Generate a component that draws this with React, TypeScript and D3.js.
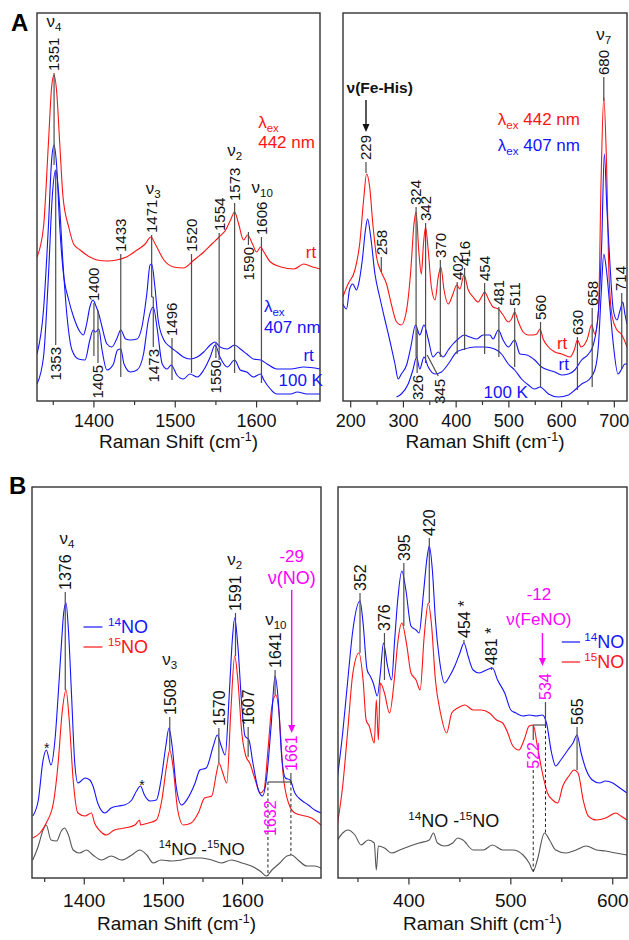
import React from 'react';
import * as d3 from 'd3';

type Pt = [number, number];
type Tag = { t: string; x: number; y: number; to?: number; down?: boolean; lx?: number; c?: string };
type Seg = [number, number, number, number];

const FONT = '"Liberation Sans", Arial, Helvetica, sans-serif';
const RED = '#ff1414';
const BLUE = '#1414ff';
const MAG = '#ff00ff';
const DIFF = '#555555';
const LEAD = '#4d4d4d';
const INK = '#111111';

// ---------- Panel A, high-frequency window (Raman shift cm-1, intensity a.u.)
const aHiRed442: Pt[] = [
  [1330, 144], [1338, 174], [1344, 257], [1348, 314], [1351, 326], [1354, 311], [1358, 257], [1362, 204],
  [1369, 174], [1375, 157], [1383, 151], [1395, 144], [1404, 141], [1416, 140], [1428, 141], [1440, 144],
  [1453, 151], [1463, 157], [1470, 164], [1476, 156], [1486, 141], [1498, 134], [1510, 133], [1523, 141],
  [1535, 149], [1545, 157], [1554, 164], [1562, 171], [1568, 181], [1573, 189], [1578, 177], [1584, 161],
  [1589, 166], [1595, 157], [1600, 149], [1605, 154], [1609, 149], [1617, 139], [1630, 134], [1646, 132],
  [1658, 137], [1669, 134], [1678, 132],
];
const aHiBlueRt: Pt[] = [
  [1330, 47], [1338, 91], [1344, 174], [1348, 241], [1351, 256], [1354, 237], [1358, 174], [1362, 131],
  [1369, 101], [1375, 84], [1383, 69], [1387, 66], [1391, 77], [1395, 94], [1399, 101], [1402, 96],
  [1406, 87], [1410, 74], [1416, 57], [1422, 54], [1428, 62], [1433, 71], [1439, 62], [1445, 61],
  [1453, 62], [1459, 74], [1465, 107], [1469, 136], [1471, 137], [1475, 114], [1479, 81], [1486, 61],
  [1494, 54], [1502, 49], [1510, 44], [1518, 42], [1527, 44], [1535, 49], [1543, 56], [1549, 59],
  [1555, 54], [1564, 52], [1573, 56], [1580, 52], [1588, 47], [1596, 42], [1605, 41], [1613, 37],
  [1625, 32], [1642, 32], [1658, 34], [1678, 32],
];
const aHiBlue100K: Pt[] = [
  [1330, 17], [1338, 44], [1344, 124], [1349, 207], [1353, 231], [1357, 204], [1362, 137], [1367, 84],
  [1373, 51], [1381, 42], [1389, 41], [1395, 61], [1399, 71], [1402, 69], [1406, 72], [1410, 51],
  [1416, 31], [1424, 37], [1429, 51], [1433, 52], [1437, 37], [1445, 29], [1453, 31], [1461, 47],
  [1467, 81], [1473, 94], [1478, 71], [1484, 37], [1490, 32], [1495, 36], [1502, 26], [1510, 22],
  [1518, 27], [1527, 24], [1535, 31], [1543, 44], [1549, 56], [1555, 44], [1564, 34], [1573, 41],
  [1580, 31], [1588, 29], [1596, 24], [1605, 27], [1609, 21], [1617, 12], [1625, 7], [1642, 7],
  [1650, 9], [1662, 7], [1678, 7],
];
const aHiTags: Tag[] = [
  { t: '1351', x: 1351, y: 328, to: 236 },
  { t: '1353', x: 1353, y: 56, to: 231, down: true },
  { t: '1400', x: 1400, y: 98, to: 45 },
  { t: '1405', x: 1405, y: 38, to: 91, down: true },
  { t: '1433', x: 1433, y: 147, to: 24 },
  { t: '1471', x: 1471, y: 166, to: 104 },
  { t: '1473', x: 1473, y: 54, to: 104, down: true },
  { t: '1496', x: 1496, y: 63, to: 21 },
  { t: '1520', x: 1520, y: 147, to: 28 },
  { t: '1554', x: 1554, y: 168, to: 41 },
  { t: '1550', x: 1550, y: 43, to: 58, down: true },
  { t: '1573', x: 1573, y: 198, to: 28 },
  { t: '1590', x: 1590, y: 156, to: 169, down: true },
  { t: '1606', x: 1606, y: 164, to: 18 },
];
const aHiSegs: Seg[] = [[1471, 104, 1473, 104]];

// ---------- Panel A, low-frequency window
const aLoRed442: Pt[] = [
  [185, 104], [195, 117], [208, 131], [217, 157], [225, 204], [230, 227], [236, 214], [242, 177],
  [249, 144], [258, 129], [268, 117], [277, 97], [287, 79], [296, 76], [306, 91], [314, 131],
  [320, 177], [324, 189], [329, 151], [334, 127], [338, 157], [342, 174], [347, 151], [353, 114],
  [360, 101], [366, 124], [371, 134], [377, 111], [385, 97], [394, 107], [401, 116], [407, 112],
  [415, 126], [423, 111], [432, 104], [442, 99], [448, 104], [454, 109], [462, 101], [470, 94],
  [480, 92], [489, 86], [499, 79], [505, 82], [511, 89], [518, 79], [527, 69], [537, 66],
  [546, 66], [553, 67], [559, 72], [565, 62], [575, 54], [587, 49], [600, 47], [616, 44],
  [624, 51], [630, 61], [637, 54], [648, 61], [657, 76], [663, 67], [670, 91], [675, 224],
  [680, 304], [685, 241], [690, 124], [696, 84], [705, 71], [713, 67], [718, 62], [724, 54],
];
const aLoBlueRt: Pt[] = [
  [185, 97], [192, 92], [198, 112], [204, 117], [211, 111], [215, 117], [222, 141], [228, 171],
  [232, 182], [238, 164], [246, 127], [255, 104], [265, 81], [274, 61], [284, 37], [290, 22],
  [296, 27], [306, 36], [314, 54], [323, 76], [331, 66], [339, 76], [347, 62], [356, 44],
  [366, 49], [375, 44], [385, 51], [394, 57], [404, 62], [415, 66], [426, 64], [439, 62],
  [451, 66], [464, 66], [470, 62], [480, 71], [489, 61], [499, 54], [511, 61], [521, 47],
  [534, 46], [549, 41], [562, 34], [575, 31], [587, 29], [600, 26], [613, 27], [625, 31],
  [638, 41], [651, 47], [660, 56], [670, 91], [676, 157], [681, 247], [686, 191], [692, 134],
  [698, 91], [705, 81], [711, 91], [716, 99], [720, 87], [724, 77],
];
const aLoBlue100K: Pt[] = [
  [287, 4], [296, 7], [309, 17], [318, 31], [325, 44], [331, 32], [339, 44], [347, 34],
  [360, 27], [372, 29], [385, 37], [401, 49], [416, 52], [435, 54], [454, 54], [473, 52],
  [486, 47], [499, 37], [511, 31], [524, 22], [537, 16], [549, 12], [559, 14], [575, 7],
  [594, 4], [613, 6], [625, 11], [638, 17], [651, 21], [663, 31], [670, 57], [675, 107],
  [680, 147], [685, 131], [692, 91], [698, 57], [707, 27], [714, 32], [720, 37], [724, 37],
];
const aLoTags: Tag[] = [
  { t: '229', x: 229, y: 239, to: 228 },
  { t: '258', x: 258, y: 144, to: 129 },
  { t: '324', x: 324, y: 194, to: 44 },
  { t: '342', x: 342, y: 178, to: 38 },
  { t: '370', x: 370, y: 141, to: 44 },
  { t: '402', x: 402, y: 119, to: 47 },
  { t: '416', x: 416, y: 133, to: 51 },
  { t: '454', x: 454, y: 118, to: 47 },
  { t: '481', x: 481, y: 94, to: 44 },
  { t: '511', x: 511, y: 93, to: 34 },
  { t: '560', x: 560, y: 79, to: 14 },
  { t: '630', x: 630, y: 64, to: 11 },
  { t: '658', x: 658, y: 93, to: 14 },
  { t: '680', x: 680, y: 324, to: 300 },
  { t: '714', x: 714, lx: 711, y: 108, to: 32 },
  { t: '326', x: 326, y: 28, to: 71, down: true },
  { t: '345', x: 368, y: 24, down: true },
];
const aLoSegs: Seg[] = [[345, 46, 366, 25]];

// ---------- Panel B, high-frequency window (14NO / 15NO)
const bHi14: Pt[] = [
  [1335, 62], [1342, 78], [1348, 118], [1352, 128], [1358, 113], [1363, 138], [1367, 182], [1371, 232],
  [1374, 265], [1377, 275], [1380, 248], [1384, 182], [1388, 115], [1392, 95], [1396, 97], [1401, 100],
  [1407, 98], [1411, 92], [1417, 75], [1426, 65], [1434, 70], [1443, 72], [1451, 73], [1460, 78],
  [1466, 87], [1471, 92], [1476, 83], [1483, 77], [1491, 78], [1497, 98], [1503, 132], [1507, 150],
  [1511, 132], [1516, 92], [1523, 73], [1531, 80], [1540, 95], [1546, 108], [1554, 110], [1563, 132],
  [1568, 143], [1573, 132], [1578, 123], [1583, 182], [1587, 238], [1590, 260], [1594, 232], [1599, 172],
  [1603, 142], [1608, 138], [1613, 115], [1620, 88], [1625, 82], [1630, 98], [1636, 152], [1641, 202],
  [1645, 178], [1649, 125], [1654, 100], [1660, 98], [1666, 85], [1674, 78], [1683, 73], [1691, 68],
  [1699, 65],
];
const bHi15: Pt[] = [
  [1335, 40], [1344, 45], [1352, 55], [1361, 75], [1367, 115], [1372, 165], [1377, 188], [1381, 158],
  [1386, 98], [1392, 65], [1401, 62], [1409, 65], [1413, 55], [1420, 47], [1428, 43], [1438, 48],
  [1451, 50], [1464, 53], [1470, 58], [1471, 53], [1481, 55], [1491, 58], [1498, 78], [1504, 112],
  [1508, 128], [1512, 112], [1518, 68], [1525, 53], [1535, 55], [1544, 65], [1552, 80], [1561, 82],
  [1567, 105], [1570, 115], [1575, 105], [1580, 95], [1585, 165], [1590, 222], [1594, 198], [1599, 145],
  [1604, 122], [1609, 115], [1616, 98], [1622, 85], [1627, 88], [1632, 128], [1637, 172], [1642, 183],
  [1646, 165], [1651, 105], [1658, 75], [1666, 65], [1679, 62], [1687, 60], [1699, 53],
];
const bHiDiff: Pt[] = [
  [1335, 18], [1342, 32], [1348, 48], [1352, 53], [1358, 38], [1365, 37], [1371, 47], [1375, 50],
  [1380, 43], [1386, 28], [1394, 25], [1403, 28], [1411, 23], [1422, 18], [1434, 22], [1447, 18],
  [1460, 23], [1470, 28], [1479, 23], [1487, 15], [1497, 18], [1510, 17], [1523, 18], [1535, 20],
  [1548, 20], [1561, 18], [1573, 15], [1586, 18], [1599, 15], [1611, 12], [1622, 7], [1630, 2],
  [1637, 8], [1647, 15], [1656, 22], [1662, 23], [1670, 18], [1681, 12], [1691, 12], [1699, 10],
];
const bHiTags: Tag[] = [
  { t: '1376', x: 1376, y: 286, to: 188 },
  { t: '1508', x: 1508, y: 161, to: 128 },
  { t: '1570', x: 1570, y: 150, to: 115 },
  { t: '1591', x: 1591, y: 265, to: 222 },
  { t: '1607', x: 1607, y: 151, to: 121 },
  { t: '1641', x: 1641, y: 208, to: 183 },
  { t: '1661', x: 1661, y: 105, to: 96, c: MAG },
  { t: '1632', x: 1635, y: 40, c: MAG },
];
const bHiSegs: Seg[] = [[1632, 96, 1661, 96]];
const bHiDash: Seg[] = [[1632, 96, 1632, 2], [1661, 96, 1661, 23]];

// ---------- Panel B, low-frequency window
const bLo14: Pt[] = [
  [330, 102], [335, 145], [340, 198], [345, 248], [352, 277], [355, 255], [359, 208], [362, 202],
  [365, 195], [369, 182], [372, 205], [375, 235], [379, 212], [383, 198], [386, 238], [389, 278],
  [393, 307], [397, 288], [402, 252], [407, 248], [410, 245], [414, 282], [418, 322], [420, 332],
  [423, 308], [426, 258], [430, 218], [435, 195], [440, 202], [445, 212], [450, 225], [454, 235],
  [458, 222], [463, 208], [469, 205], [476, 208], [482, 210], [487, 198], [494, 185], [500, 168],
  [505, 165], [512, 162], [518, 163], [525, 162], [531, 163], [535, 155], [540, 125], [544, 112],
  [549, 118], [556, 128], [561, 135], [565, 143], [569, 125], [574, 108], [580, 98], [587, 95],
  [593, 97], [600, 95], [607, 90], [614, 85],
];
const bLo15: Pt[] = [
  [330, 55], [335, 92], [340, 148], [345, 205], [351, 225], [355, 198], [358, 158], [361, 152],
  [366, 135], [368, 178], [370, 138], [372, 195], [376, 185], [381, 165], [386, 202], [389, 235],
  [393, 255], [398, 232], [402, 205], [407, 198], [411, 188], [415, 242], [419, 275], [422, 255],
  [426, 198], [431, 165], [437, 145], [442, 165], [448, 170], [455, 173], [463, 168], [471, 168],
  [479, 165], [486, 158], [492, 155], [497, 145], [502, 132], [508, 128], [513, 138], [518, 152],
  [522, 153], [526, 132], [531, 105], [536, 85], [541, 78], [546, 75], [551, 92], [557, 102],
  [562, 108], [566, 105], [571, 78], [576, 62], [584, 58], [593, 60], [603, 65], [608, 62], [614, 58],
];
const bLoDiff: Pt[] = [
  [330, 38], [335, 45], [340, 48], [347, 43], [353, 33], [360, 38], [366, 35], [368, 8],
  [370, 32], [376, 30], [383, 25], [391, 28], [401, 32], [410, 35], [420, 38], [424, 45],
  [428, 35], [435, 32], [443, 35], [448, 40], [453, 38], [463, 28], [473, 28], [482, 33],
  [492, 28], [502, 28], [512, 23], [518, 15], [522, 7], [526, 18], [533, 45], [538, 38],
  [544, 28], [554, 25], [564, 28], [574, 32], [584, 28], [593, 27], [603, 25], [614, 23],
];
const bLoTags: Tag[] = [
  { t: '352', x: 352, y: 285, to: 225 },
  { t: '376', x: 376, y: 245, to: 198 },
  { t: '395', x: 395, y: 315, to: 252 },
  { t: '420', x: 420, y: 340, to: 275 },
  { t: '454 *', x: 454, y: 238, to: 235 },
  { t: '481 *', x: 481, y: 211, to: 208 },
  { t: '534', x: 534, y: 176, to: 153, c: MAG },
  { t: '522', x: 522, y: 138, to: 153, down: true, c: MAG },
  { t: '565', x: 565, y: 151, to: 108 },
];
const bLoSegs: Seg[] = [[522, 153, 534, 153]];
const bLoDash: Seg[] = [[522, 108, 522, 6], [534, 153, 534, 45]];

type Scale = d3.ScaleLinear<number, number>;

interface PanelProps {
  x0: number; x1: number; y0: number; y1: number;
  xd: [number, number];
  major: number[]; minor: number[];
  series: { pts: Pt[]; color: string }[];
  tags: Tag[]; tagSize: number;
  segs?: Seg[]; dashes?: Seg[];
  tickSize: number; tickDy: number; titleDy: number;
  extra?: (x: Scale, y: Scale) => React.ReactNode;
}

// nu / lambda with a subscript, drawn as one text element
const SubLabel = ({ x, y, base, sub, rest, anchor, fill, size }: {
  x: number; y: number; base: string; sub: string; rest?: string; anchor?: string; fill?: string; size?: number;
}) => (
  <text x={x} y={y} textAnchor={anchor ?? 'start'} fill={fill ?? INK} fontSize={size}>
    {base}
    <tspan dy={4} fontSize="0.68em">{sub}</tspan>
    {rest ? <tspan dy={-4}>{rest}</tspan> : null}
  </text>
);

// isotope label like 14NO or 14NO -15NO
const Iso = ({ x, y, parts, anchor, fill, size }: {
  x: number; y: number; parts: [string, string][]; anchor?: string; fill?: string; size: number;
}) => (
  <text x={x} y={y} textAnchor={anchor ?? 'start'} fill={fill ?? INK} fontSize={size}>
    {parts.map(([sup, txt], i) => (
      <React.Fragment key={i}>
        <tspan dy={-7} fontSize={size * 0.65}>{sup}</tspan>
        <tspan dy={7}>{txt}</tspan>
      </React.Fragment>
    ))}
  </text>
);

function Panel(p: PanelProps) {
  const x = d3.scaleLinear().domain(p.xd).range([p.x0, p.x1]);
  const y = d3.scaleLinear().domain([0, p.y1 - p.y0]).range([p.y1, p.y0]);
  const line = d3.line<Pt>().x((d) => x(d[0])).y((d) => y(d[1])).curve(d3.curveMonotoneX);
  const id = `clip-${p.x0}-${p.y0}`;
  return (
    <g>
      <clipPath id={id}>
        <rect x={p.x0} y={p.y0} width={p.x1 - p.x0} height={p.y1 - p.y0} />
      </clipPath>
      <g clipPath={`url(#${id})`}>
        {p.series.map((s, i) => (
          <path key={i} d={line(s.pts) ?? ''} fill="none" stroke={s.color} strokeWidth={1.1} />
        ))}
      </g>
      {p.tags.filter((t) => t.to !== undefined).map((t, i) => (
        <line key={'l' + i} x1={x(t.x)} x2={x(t.x)} y1={y(t.y)} y2={y(t.to!)} stroke={LEAD} strokeWidth={1.2} />
      ))}
      {(p.segs ?? []).map((s, i) => (
        <line key={'s' + i} x1={x(s[0])} y1={y(s[1])} x2={x(s[2])} y2={y(s[3])} stroke={LEAD} strokeWidth={1.2} />
      ))}
      {(p.dashes ?? []).map((s, i) => (
        <line key={'d' + i} x1={x(s[0])} y1={y(s[1])} x2={x(s[2])} y2={y(s[3])} stroke="#222" strokeWidth={1} strokeDasharray="3,2.5" />
      ))}
      {p.tags.map((t, i) => {
        const px = x(t.lx ?? t.x);
        const py = y(t.y) + (t.down ? 2 : -2);
        return (
          <text key={'t' + i} transform={`translate(${px},${py}) rotate(-90)`} textAnchor={t.down ? 'end' : 'start'}
            dy="0.36em" fontSize={p.tagSize} fill={t.c ?? INK}>{t.t}</text>
        );
      })}
      <rect x={p.x0} y={p.y0} width={p.x1 - p.x0} height={p.y1 - p.y0} fill="none" stroke="#333" strokeWidth={1.4} />
      {p.minor.map((v) => (
        <line key={'m' + v} x1={x(v)} x2={x(v)} y1={p.y1} y2={p.y1 + 4} stroke="#333" strokeWidth={1.2} />
      ))}
      {p.major.map((v) => (
        <g key={'M' + v}>
          <line x1={x(v)} x2={x(v)} y1={p.y1} y2={p.y1 + 6.5} stroke="#333" strokeWidth={1.2} />
          <text x={x(v)} y={p.y1 + p.tickDy} textAnchor="middle" fontSize={p.tickSize} fill={INK}>{v}</text>
        </g>
      ))}
      <text x={(p.x0 + p.x1) / 2} y={p.y1 + p.titleDy} textAnchor="middle" fontSize={19} fill={INK}>
        Raman Shift (cm<tspan dy={-7} fontSize={12.5}>-1</tspan><tspan dy={7}>)</tspan>
      </text>
      {p.extra?.(x, y)}
    </g>
  );
}

const Arrow = ({ x, y1, y2, color }: { x: number; y1: number; y2: number; color: string }) => (
  <g>
    <line x1={x} x2={x} y1={y1} y2={y2 - 7} stroke={color} strokeWidth={1.4} />
    <path d={`M${x - 3.5},${y2 - 8} L${x + 3.5},${y2 - 8} L${x},${y2} Z`} fill={color} />
  </g>
);

export default function App() {
  const nu = 17;
  return (
    <svg width={629} height={940} style={{ position: 'absolute', left: 0, top: 0, background: '#fff' }} fontFamily={FONT}>
      <text x={11} y={31} fontSize={24} fontWeight="bold">A</text>
      <text x={9} y={494} fontSize={24} fontWeight="bold">B</text>

      <Panel x0={37} x1={320} y0={13} y1={401} xd={[1330, 1678]}
        major={[1400, 1500, 1600]} minor={[1350, 1450, 1550, 1650]}
        series={[{ pts: aHiRed442, color: RED }, { pts: aHiBlueRt, color: BLUE }, { pts: aHiBlue100K, color: BLUE }]}
        tags={aHiTags} tagSize={15} segs={aHiSegs} tickSize={18} tickDy={26} titleDy={47}
        extra={(x, y) => (
          <g fontSize={nu}>
            <SubLabel x={x(1351)} y={y(374)} base="ν" sub="4" anchor="middle" />
            <SubLabel x={x(1473)} y={y(207)} base="ν" sub="3" anchor="middle" />
            <SubLabel x={x(1573)} y={y(245)} base="ν" sub="2" anchor="middle" />
            <SubLabel x={x(1607)} y={y(208)} base="ν" sub="10" anchor="middle" />
            <SubLabel x={x(1602)} y={y(273)} base="λ" sub="ex" fill={RED} />
            <text x={x(1602)} y={y(253)} fill={RED}>442 nm</text>
            <text x={x(1667)} y={y(143)} textAnchor="middle" fill={RED}>rt</text>
            <SubLabel x={x(1609)} y={y(89)} base="λ" sub="ex" fill={BLUE} />
            <text x={x(1609)} y={y(68)} fill={BLUE}>407 nm</text>
            <text x={x(1664)} y={y(40)} textAnchor="middle" fill={BLUE}>rt</text>
            <text x={x(1627)} y={y(15)} fill={BLUE}>100 K</text>
          </g>
        )}
      />

      <Panel x0={343} x1={627} y0={13} y1={401} xd={[185.4, 724]}
        major={[200, 300, 400, 500, 600, 700]} minor={[250, 350, 450, 550, 650]}
        series={[{ pts: aLoRed442, color: RED }, { pts: aLoBlueRt, color: BLUE }, { pts: aLoBlue100K, color: BLUE }]}
        tags={aLoTags} tagSize={15} segs={aLoSegs} tickSize={18} tickDy={26} titleDy={47}
        extra={(x, y) => (
          <g fontSize={nu}>
            <text x={x(255)} y={y(308)} textAnchor="middle" fontWeight="bold" fontSize={15.5} fill={INK}>ν(Fe-His)</text>
            <Arrow x={x(229)} y1={y(301)} y2={y(269)} color="#111" />
            <SubLabel x={x(680)} y={y(361)} base="ν" sub="7" anchor="middle" />
            <SubLabel x={x(479)} y={y(276)} base="λ" sub="ex" rest=" 442 nm" fill={RED} />
            <SubLabel x={x(479)} y={y(250)} base="λ" sub="ex" rest=" 407 nm" fill={BLUE} />
            <text x={x(601)} y={y(52)} textAnchor="middle" fill={RED}>rt</text>
            <text x={x(604)} y={y(31)} textAnchor="middle" fill={BLUE}>rt</text>
            <text x={x(494)} y={y(3)} textAnchor="middle" fill={BLUE}>100 K</text>
          </g>
        )}
      />

      <Panel x0={32} x1={321} y0={487} y1={878} xd={[1334, 1699]}
        major={[1400, 1500, 1600]} minor={[1350, 1450, 1550, 1650]}
        series={[{ pts: bHiDiff, color: DIFF }, { pts: bHi15, color: RED }, { pts: bHi14, color: BLUE }]}
        tags={bHiTags} tagSize={16} segs={bHiSegs} dashes={bHiDash} tickSize={19} tickDy={29} titleDy={52}
        extra={(x, y) => (
          <g fontSize={nu}>
            <SubLabel x={x(1378)} y={y(334)} base="ν" sub="4" anchor="middle" />
            <SubLabel x={x(1508)} y={y(213)} base="ν" sub="3" anchor="middle" />
            <SubLabel x={x(1590)} y={y(313)} base="ν" sub="2" anchor="middle" />
            <SubLabel x={x(1642)} y={y(253)} base="ν" sub="10" anchor="middle" />
            <line x1={x(1399)} x2={x(1423)} y1={y(251)} y2={y(251)} stroke={BLUE} strokeWidth={1.2} />
            <line x1={x(1399)} x2={x(1423)} y1={y(231)} y2={y(231)} stroke={RED} strokeWidth={1.2} />
            <Iso x={x(1430)} y={y(245)} fill={BLUE} size={18} parts={[['14', 'NO']]} />
            <Iso x={x(1430)} y={y(225)} fill={RED} size={18} parts={[['15', 'NO']]} />
            <text x={x(1662)} y={y(316)} textAnchor="middle" fill={MAG}>-29</text>
            <text x={x(1662)} y={y(294)} textAnchor="middle" fontSize={18} fill={MAG}>ν(NO)</text>
            <Arrow x={x(1662)} y1={y(288)} y2={y(145)} color={MAG} />
            <text x={x(1352.6)} y={y(125)} textAnchor="middle" fontSize={14} fill={INK}>*</text>
            <text x={x(1473)} y={y(88)} textAnchor="middle" fontSize={14} fill={INK}>*</text>
            <Iso x={x(1548.5)} y={y(23)} anchor="middle" size={17} parts={[['14', 'NO -'], ['15', 'NO']]} />
          </g>
        )}
      />

      <Panel x0={338} x1={627} y0={487} y1={878} xd={[330.4, 614]}
        major={[400, 500, 600]} minor={[350, 450, 550]}
        series={[{ pts: bLoDiff, color: DIFF }, { pts: bLo15, color: RED }, { pts: bLo14, color: BLUE }]}
        tags={bLoTags} tagSize={16} segs={bLoSegs} dashes={bLoDash} tickSize={19} tickDy={29} titleDy={52}
        extra={(x, y) => (
          <g fontSize={nu}>
            <text x={x(527.6)} y={y(278)} textAnchor="middle" fill={MAG}>-12</text>
            <text x={x(527.6)} y={y(253)} textAnchor="middle" fill={MAG}>ν(FeNO)</text>
            <Arrow x={x(531)} y1={y(245)} y2={y(212)} color={MAG} />
            <line x1={x(550)} x2={x(568)} y1={y(236)} y2={y(236)} stroke={BLUE} strokeWidth={1.2} />
            <line x1={x(550)} x2={x(568)} y1={y(216)} y2={y(216)} stroke={RED} strokeWidth={1.2} />
            <Iso x={x(572)} y={y(230)} fill={BLUE} size={18} parts={[['14', 'NO']]} />
            <Iso x={x(572)} y={y(210)} fill={RED} size={18} parts={[['15', 'NO']]} />
            <Iso x={x(444)} y={y(51)} anchor="middle" size={18} parts={[['14', 'NO -'], ['15', 'NO']]} />
          </g>
        )}
      />
    </svg>
  );
}
